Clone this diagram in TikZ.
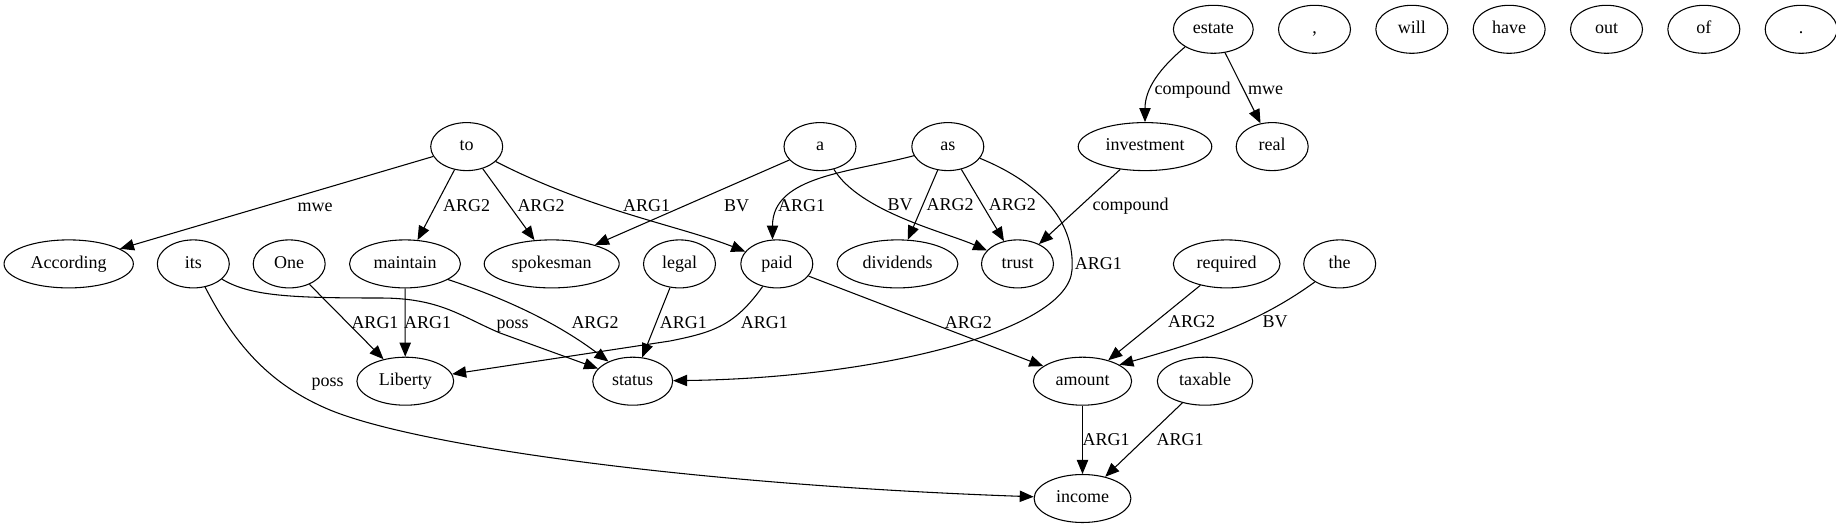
\documentclass[tikz,border=0pt]{standalone}
\usepackage{fontspec}
\setmainfont{Liberation Serif}
\usetikzlibrary{positioning, arrows.meta, shapes.geometric}

\begin{document}
\begin{tikzpicture}[
    x=0.75pt, y=-0.75pt,
    word/.style={
        ellipse, draw, line width=0.8pt,
        minimum width=54pt, minimum height=36pt,
        inner xsep=5.8pt, inner ysep=2pt,
        text height=9.4pt, text depth=3pt,
        font=\fontsize{13.5pt}{16pt}\selectfont},
    lbl/.style={font=\fontsize{13.5pt}{16pt}\selectfont,
        inner sep=0pt, text height=8.9pt, text depth=0pt},
    arr/.style={-{Triangle[length=10.5pt, width=8.5pt]}, line width=0.8pt}]
  \useasboundingbox (0,0) rectangle (1836,528);
  % Fila 1
  \node[word] (estate) at (1213.3,29.3) {estate};
  \node[word] (comma)  at (1314.5,29.3) {,};
  \node[word, right=18.2pt of comma] (will)   {will};
  \node[word, right=18.2pt of will]  (have)   {have};
  \node[word, right=18.2pt of have]  (out)    {out};
  \node[word, right=18.2pt of out]   (of)     {of};
  \node[word, right=18.2pt of of]    (period) {.};
  % Fila 2
  \node[word] (to)         at (466.7,146.6)  {to};
  \node[word] (a)          at (820,146.6)    {a};
  \node[word] (as)         at (947.8,146.6)  {as};
  \node[word] (investment) at (1145,146.6)   {investment};
  \node[word] (real)       at (1272.2,146.6) {real};
  % Fila 3
  \node[word] (According) at (68.7,263.9)   {According};
  \node[word] (its)       at (193.3,263.9)  {its};
  \node[word] (One)       at (289.2,263.9)  {One};
  \node[word] (maintain)  at (405,263.9)    {maintain};
  \node[word] (spokesman) at (551.7,263.9)  {spokesman};
  \node[word] (legal)     at (679.5,263.9)  {legal};
  \node[word] (paid)      at (776.8,263.9)  {paid};
  \node[word] (dividends) at (897.5,263.9)  {dividends};
  \node[word] (trust)     at (1017.5,263.9) {trust};
  \node[word] (required)  at (1226.7,263.9) {required};
  \node[word] (the)       at (1339.7,263.9) {the};
  % Filas 4 y 5
  \node[word] (Liberty) at (405.3,381.2)  {Liberty};
  \node[word] (status)  at (632.7,381.2)  {status};
  \node[word] (amount)  at (1082.5,381.2) {amount};
  \node[word] (taxable) at (1205,381.2)   {taxable};
  \node[word] (income)  at (1082.5,498.5) {income};
  % Aristas
  \draw[arr] (to) -- (According);
  \draw[arr] (to) -- (maintain);
  \draw[arr] (to) -- (spokesman);
  \draw[arr] (to) .. controls (590,210) and (680,226) .. (paid);
  \draw[arr] (a) -- (spokesman);
  \draw[arr] (a) .. controls (860,212) and (945,232) .. (trust);
  \draw[arr] (as.195) to[out=195, in=90] (paid.100);
  \draw[arr] (as) -- (dividends);
  \draw[arr] (as) -- (trust);
  \draw[arr] (as.340) .. controls (1045,185) and (1075,225) .. (1072,270)
             .. controls (1068,330) and (880,378) .. (status);
  \draw[arr] (investment) -- (trust);
  \draw[arr] (estate.212) to[out=220, in=90] (investment.north);
  \draw[arr] (estate) -- (real);
  \draw[arr] (its.332) .. controls (250,296) and (290,298) .. (380,298)
             .. controls (440,298) and (460,316) .. (500,333) -- (status);
  \draw[arr] (its.297) .. controls (235,345) and (270,385) .. (330,410)
             .. controls (420,447) and (700,485) .. (income);
  \draw[arr] (One) -- (Liberty);
  \draw[arr] (maintain) -- (Liberty);
  \draw[arr] (maintain.340) .. controls (510,300) and (560,325) .. (status.141);
  \draw[arr] (legal) -- (status);
  \draw[arr] (paid.238) .. controls (735,325) and (715,332) .. (670,341) -- (Liberty);
  \draw[arr] (paid) -- (amount);
  \draw[arr] (required) -- (amount);
  \draw[arr] (the.216) .. controls (1265,318) and (1215,338) .. (amount.24);
  \draw[arr] (amount) -- (income);
  \draw[arr] (taxable) -- (income);
  % Etiquetas de las aristas
  \node[lbl] (lToAcc)   at (315,205.7)    {mwe};
  \node[lbl] (lToMai)   at (466.7,205.7)  {ARG2};
  \node[lbl] (lToSpo)   at (541,205.7)    {ARG2};
  \node[lbl] (lToPai)   at (646.7,205.7)  {ARG1};
  \node[lbl] (lASpo)    at (736.7,205.7)  {BV};
  \node[lbl] (lAsPai)   at (801.7,205.7)  {ARG1};
  \node[lbl] (lATru)    at (900,204.3)    {BV};
  \node[lbl] (lAsDiv)   at (950,204.3)    {ARG2};
  \node[lbl] (lAsTru)   at (1012.3,204.3) {ARG2};
  \node[lbl] (lInvTru)  at (1130.7,204.3) {compound};
  \node[lbl] (lAsSta)   at (1098.3,263.3) {ARG1};
  \node[lbl] (lEstInv)  at (1192.7,88.3)  {compound};
  \node[lbl] (lEstRea)  at (1265.7,88.3)  {mwe};
  \node[lbl] (lOneLib)  at (375,322.3)    {ARG1};
  \node[lbl] (lMaiLib)  at (427.7,322.3)  {ARG1};
  \node[lbl] (lItsSta)  at (512.7,322.3)  {poss};
  \node[lbl] (lMaiSta)  at (595,322.3)    {ARG2};
  \node[lbl] (lLegSta)  at (683.3,322.3)  {ARG1};
  \node[lbl] (lPaiLib)  at (764.3,322.3)  {ARG1};
  \node[lbl] (lPaiAmo)  at (968.3,322.3)  {ARG2};
  \node[lbl] (lReqAmo)  at (1191.7,321.7) {ARG2};
  \node[lbl] (lTheAmo)  at (1275,321.7)   {BV};
  \node[lbl] (lItsInc)  at (327.7,381)    {poss};
  \node[lbl] (lAmoInc)  at (1106,439.3)   {ARG1};
  \node[lbl] (lTaxInc)  at (1180,439.3)   {ARG1};
\end{tikzpicture}
\end{document}
